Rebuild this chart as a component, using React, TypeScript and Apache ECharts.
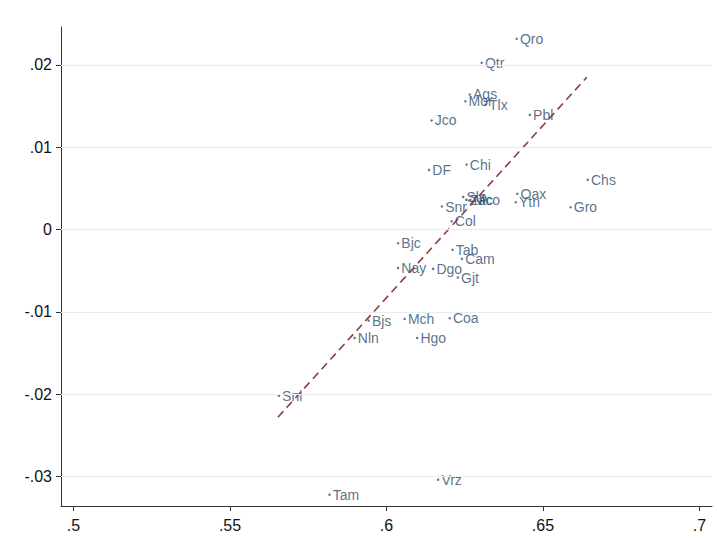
import React, { useEffect, useRef } from "react";
import * as echarts from "echarts";

const stateNames = [
  "Qro", "Qtr", "Ags", "Mor", "Tlx", "Jco", "Pbl", "DF", "Chi", "Chs",
  "Oax", "Ytn", "Gro", "Slp", "Zac", "Mco", "Snr", "Col", "Tab", "Cam",
  "Dgo", "Gjt", "Bjc", "Nay", "Bjs", "Mch", "Coa", "Nln", "Hgo", "Snl",
  "Vrz", "Tam",
];
const xValues = [
  0.6416, 0.6304, 0.6266, 0.6252, 0.6317, 0.6144, 0.6458, 0.6136, 0.6256, 0.6643,
  0.6418, 0.6413, 0.6588, 0.6245, 0.6255, 0.6268, 0.6177, 0.6208, 0.6211, 0.6241,
  0.6149, 0.6228, 0.6037, 0.6037, 0.5943, 0.6058, 0.6202, 0.5898, 0.6098, 0.5656,
  0.6165, 0.5818,
];
const yValues = [
  0.02317, 0.02025, 0.0164, 0.01558, 0.01518, 0.01324, 0.01393, 0.00724, 0.00789, 0.00603,
  0.00433, 0.00331, 0.0027, 0.00395, 0.0036, 0.0036, 0.00279, 0.001, -0.00248, -0.00357,
  -0.00479, -0.00585, -0.00168, -0.00467, -0.01107, -0.01087, -0.01079, -0.01318, -0.01318, -0.02019,
  -0.0304, -0.03222,
];
const fitX = [0.5653, 0.664];
const fitY = [-0.02282, 0.0185];
const xTicks = [0.5, 0.55, 0.6, 0.65, 0.7];
const yTicks = [-0.03, -0.02, -0.01, 0, 0.01, 0.02];

const fmt = (v: number) => {
  if (Math.abs(v) < 1e-9) return "0";
  const s = String(+v.toFixed(4));
  return s.replace(/^(-?)0\./, "$1.");
};

export default function App() {
  const ref = useRef<HTMLDivElement>(null);
  useEffect(() => {
    if (!ref.current) return;
    const chart = echarts.init(ref.current, undefined, { renderer: "svg" });
    const font = "'Liberation Sans', Arial, Helvetica, sans-serif";
    const axisLine = { show: true, onZero: false, lineStyle: { color: "#333", width: 1 } };
    const tickBase = { show: true, inside: false, length: 5, lineStyle: { color: "#333" } };
    chart.setOption({
      animation: false,
      backgroundColor: "#ffffff",
      grid: { left: 61, right: 5, top: 27, bottom: 32, containLabel: false },
      xAxis: {
        type: "value",
        min: 0.496,
        max: 0.704,
        axisLine,
        splitLine: { show: false },
        axisTick: { ...tickBase, customValues: xTicks },
        axisLabel: {
          customValues: xTicks,
          formatter: (v: number) => fmt(v),
          color: "#111",
          fontSize: 16,
          fontFamily: font,
          margin: 11,
        },
      },
      yAxis: {
        type: "value",
        min: -0.0336,
        max: 0.0246,
        axisLine,
        splitLine: { show: false },
        axisTick: { ...tickBase, customValues: yTicks },
        axisLabel: {
          customValues: yTicks,
          formatter: (v: number) => fmt(v),
          color: "#111",
          fontSize: 16,
          fontFamily: font,
          margin: 9,
        },
      },
      series: [
        {
          type: "scatter",
          name: "grid",
          data: [],
          silent: true,
          z: 1,
          markLine: {
            silent: true,
            symbol: "none",
            label: { show: false },
            lineStyle: { color: "#e6eef0", width: 1, type: "solid" },
            data: yTicks.map((v) => ({ yAxis: v })),
          },
        },
        {
          type: "scatter",
          name: "states",
          z: 3,
          symbol: "circle",
          symbolSize: 2.5,
          itemStyle: { color: "#3c5876" },
          data: stateNames.map((n, i) => ({ name: n, value: [xValues[i], yValues[i]] })),
          label: {
            show: true,
            position: "right",
            distance: 2,
            formatter: (p: any) => p.name,
            color: "#2f4d6d",
            fontSize: 14,
            fontFamily: font,
          },
          labelLayout: { hideOverlap: false },
        },
        {
          type: "line",
          name: "fit",
          z: 4,
          symbol: "none",
          data: fitX.map((x, i) => [x, fitY[i]]),
          lineStyle: { color: "#8e3b42", width: 1.6, type: [8, 5] },
        },
      ],
    });
    return () => chart.dispose();
  }, []);
  return <div ref={ref} style={{ width: 717, height: 538, position: "absolute", left: 0, top: 0 }} />;
}
